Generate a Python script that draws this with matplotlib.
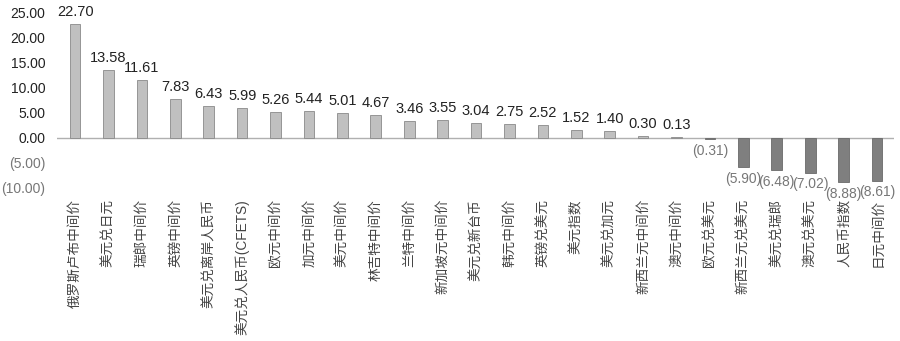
import matplotlib
matplotlib.use("Agg")
import matplotlib.pyplot as plt

plt.rcParams['font.family'] = ['Liberation Sans', 'Noto Sans CJK SC', 'DejaVu Sans']

categories = ["俄罗斯卢布中间价", "美元兑日元", "瑞郎中间价", "英镑中间价", "美元兑离岸人民币",
              "美元兑人民币(CFETS)", "欧元中间价", "加元中间价", "美元中间价", "林吉特中间价",
              "兰特中间价", "新加坡元中间价", "美元兑新台币", "韩元中间价", "英镑兑美元",
              "美元指数", "美元兑加元", "新西兰元中间价", "澳元中间价", "欧元兑美元",
              "新西兰元兑美元", "美元兑瑞郎", "澳元兑美元", "人民币指数", "日元中间价"]
values = [22.70, 13.58, 11.61, 7.83, 6.43, 5.99, 5.26, 5.44, 5.01, 4.67,
          3.46, 3.55, 3.04, 2.75, 2.52, 1.52, 1.40, 0.30, 0.13, -0.31,
          -5.90, -6.48, -7.02, -8.88, -8.61]
yticks = [-10, -5, 0, 5, 10, 15, 20, 25]


def fmt(v):
    return "(%.2f)" % abs(v) if v < 0 else "%.2f" % v


fig = plt.figure(figsize=(9, 3.41), dpi=100)
ax = fig.add_axes([0.063, 0.449, 0.93, 0.513])

x = list(range(len(values)))
colors = ['#c0c0c0' if v >= 0 else '#7f7f7f' for v in values]
edges = ['#8a8a8a' if v >= 0 else '#6a6a6a' for v in values]
ax.bar(x, values, width=0.32, color=colors, edgecolor=edges, linewidth=0.6, zorder=2)

for xi, v in zip(x, values):
    if v >= 0:
        ax.text(xi, v + 1.0, fmt(v), ha='center', va='bottom', fontsize=10.5, color='#222222')
    else:
        ax.text(xi, v - 0.9, fmt(v), ha='center', va='top', fontsize=10, color='#777777')

ax.axhline(0, color='#b0b0b0', linewidth=1.0, zorder=1)
ax.set_xlim(-0.55, len(values) - 0.5)
ax.set_ylim(-10, 25)
ax.set_yticks(yticks)
ax.set_yticklabels([fmt(t) for t in yticks], fontsize=10)
for lab, t in zip(ax.get_yticklabels(), yticks):
    lab.set_color('#777777' if t < 0 else '#222222')
ax.tick_params(axis='y', length=0, pad=8)
ax.tick_params(axis='x', length=0, pad=8)
ax.set_xticks(x)
ax.set_xticklabels(categories, rotation=90, fontsize=9.8, color='#444444', va='top')
for s in ax.spines.values():
    s.set_visible(False)

fig.savefig("out.png", dpi=100)
